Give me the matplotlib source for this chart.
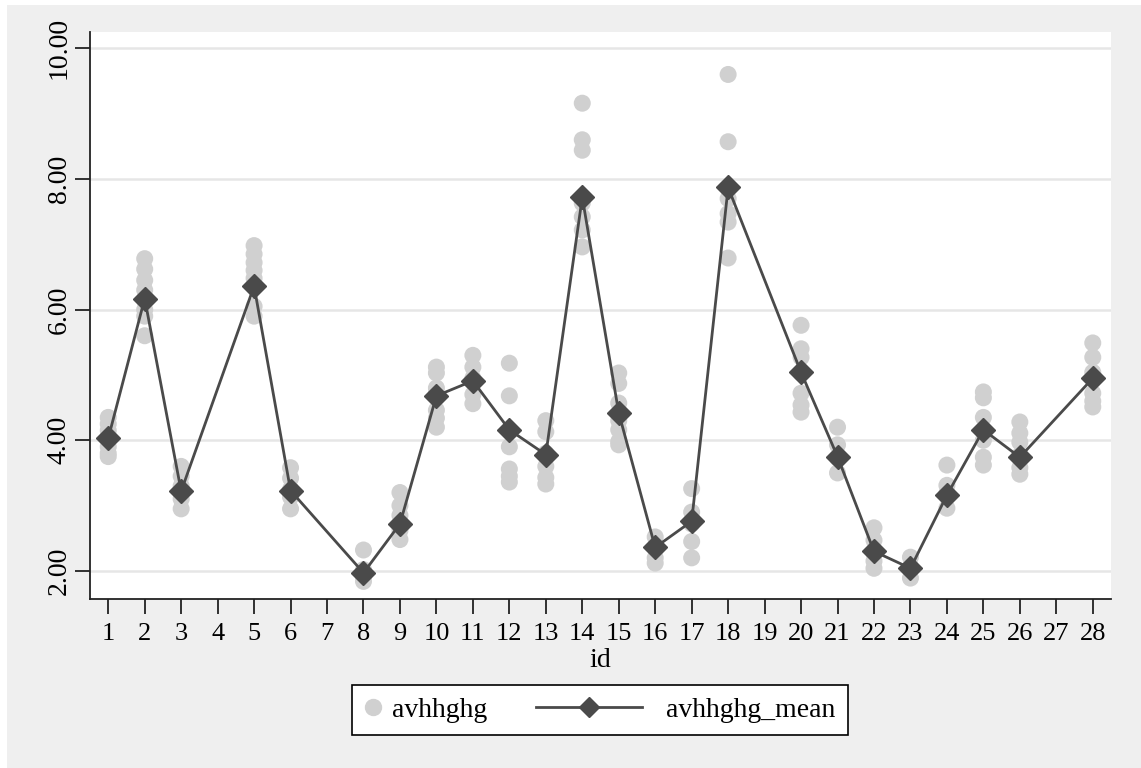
import matplotlib; matplotlib.use("Agg")
import matplotlib.pyplot as plt
from matplotlib.patches import Rectangle
from matplotlib.lines import Line2D
from matplotlib.legend_handler import HandlerBase
import numpy as np

# ids with observations (4, 7, 19, 27 have none)
ids = [1, 2, 3, 5, 6, 8, 9, 10, 11, 12, 13, 14, 15, 16, 17, 18, 20, 21, 22, 23, 24, 25, 26, 28]

# individual avhhghg values per id
avhhghg = [
    [4.35, 4.25, 4.15, 4.05, 3.9, 3.8, 3.75],
    [6.78, 6.62, 6.45, 6.3, 6.15, 6.0, 5.9, 5.6],
    [3.6, 3.45, 3.3, 3.2, 3.1, 2.95],
    [6.98, 6.85, 6.72, 6.6, 6.48, 6.35, 6.05, 5.9],
    [3.58, 3.42, 3.25, 3.13, 2.95],
    [2.32, 2.02, 1.92, 1.84],
    [3.2, 3.0, 2.85, 2.62, 2.48],
    [5.12, 5.03, 4.8, 4.72, 4.46, 4.34, 4.2],
    [5.3, 5.12, 4.95, 4.9, 4.7, 4.56],
    [5.18, 4.68, 3.9, 3.56, 3.45, 3.36],
    [4.3, 4.13, 3.8, 3.6, 3.43, 3.33],
    [9.16, 8.6, 8.44, 7.63, 7.42, 7.22, 6.96],
    [5.03, 4.87, 4.57, 4.3, 4.16, 3.98, 3.93],
    [2.52, 2.36, 2.2, 2.12],
    [3.26, 2.9, 2.72, 2.45, 2.2],
    [9.6, 8.57, 7.7, 7.47, 7.34, 6.79],
    [5.76, 5.4, 5.27, 5.03, 4.72, 4.54, 4.43],
    [4.2, 3.93, 3.73, 3.5],
    [2.66, 2.47, 2.28, 2.15, 2.04],
    [2.21, 2.06, 1.89],
    [3.62, 3.31, 3.19, 2.96],
    [4.74, 4.65, 4.35, 4.0, 3.74, 3.62],
    [4.28, 4.11, 3.97, 3.77, 3.58, 3.48],
    [5.49, 5.27, 5.04, 4.72, 4.6, 4.51],
]

# group means
avhhghg_mean = [4.03, 6.17, 3.22, 6.36, 3.23, 1.97, 2.72, 4.68, 4.91, 4.16, 3.78, 7.72,
                4.42, 2.36, 2.76, 7.87, 5.04, 3.75, 2.30, 2.04, 3.16, 4.16, 3.74, 4.95]

ytick_vals = [2, 4, 6, 8, 10]
xtick_vals = list(range(1, 29))

DOT = "#d0d0d0"
DARK = "#4a4a4a"

plt.rcParams["font.family"] = ["Liberation Serif", "DejaVu Serif"]


class WideLineHandler(HandlerBase):
    # line key that reaches back into the column gap, like the Stata legend
    def create_artists(self, legend, orig_handle, xdescent, ydescent, width, height,
                       fontsize, trans):
        y = height / 2 - ydescent
        x1 = -xdescent + width - 0.48 * fontsize
        x0 = x1 - 3.8 * fontsize
        ln = Line2D([x0, x1], [y, y], color=DARK, lw=2, transform=trans)
        mk = Line2D([(x0 + x1) / 2], [y], marker="D", ms=10, color=DARK, lw=0,
                    transform=trans)
        return [ln, mk]


fig = plt.figure(figsize=(11.41, 7.68), dpi=100)
fig.patch.set_facecolor("white")
fig.patches.append(Rectangle((7 / 1141, 0), 1, 1 - 5 / 768, transform=fig.transFigure,
                             facecolor="#efefef", edgecolor="none", zorder=-10))

ax = fig.add_axes([90 / 1141, 1 - 599 / 768, (1111 - 90) / 1141, (599 - 32) / 768])
ax.set_facecolor("white")

obs_x = np.concatenate([[i] * len(v) for i, v in zip(ids, avhhghg)])
obs_y = np.concatenate(avhhghg)
sc = ax.scatter(obs_x, obs_y, s=150, color=DOT, edgecolors="none", zorder=2)
mline, = ax.plot(ids, avhhghg_mean, color=DARK, lw=2, marker="D", ms=12,
                 markerfacecolor=DARK, markeredgecolor=DARK, zorder=3)

ax.set_xlim(0.5, 28.5)
ax.set_ylim(1.57, 10.25)
ax.set_yticks(ytick_vals)
ax.set_yticklabels([f"{v:.2f}" for v in ytick_vals], rotation=90, va="center", fontsize=20)
ax.set_xticks(xtick_vals)
ax.set_xticklabels([str(v) for v in xtick_vals], fontsize=19)
ax.tick_params(axis="both", direction="out", length=10.5, width=1.3, color="#222222")
ax.tick_params(axis="x", pad=7)
ax.tick_params(axis="y", pad=2.5)
ax.yaxis.grid(True, color="#e6e6e6", lw=1.8, zorder=0)
ax.set_axisbelow(True)
for side in ["top", "right"]:
    ax.spines[side].set_visible(False)
for side in ["left", "bottom"]:
    ax.spines[side].set_linewidth(1.3)
    ax.spines[side].set_color("#222222")
ax.set_xlabel("id", fontsize=20, labelpad=2)

dot_key = Line2D([], [], ls="none", marker="o", ms=11.5, color=DOT)
leg = fig.legend([dot_key, mline], ["avhhghg", "avhhghg_mean"],
                 handler_map={mline: WideLineHandler()},
                 loc="center", bbox_to_anchor=(600 / 1141, 1 - 710 / 768), ncol=2,
                 fontsize=20, frameon=True, fancybox=False, edgecolor="black",
                 handlelength=0.6, columnspacing=5.42, handletextpad=0.4,
                 borderpad=0.45, borderaxespad=0)
leg.get_frame().set_linewidth(1.2)
leg.get_frame().set_facecolor("white")
leg.get_frame().set_alpha(1)

fig.savefig("out.png", dpi=100, facecolor=fig.get_facecolor())
